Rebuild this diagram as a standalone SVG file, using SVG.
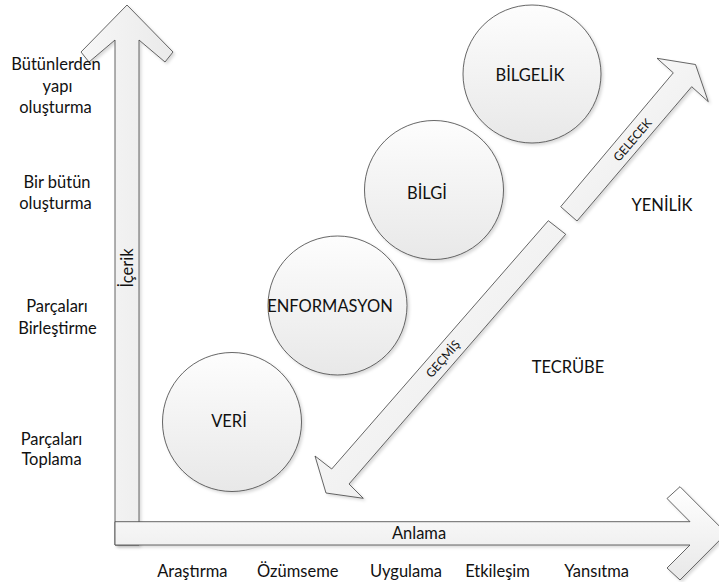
<svg xmlns="http://www.w3.org/2000/svg" width="719" height="582" viewBox="0 0 719 582">
<style>
  text { font-family: Lato, "Open Sans", "Liberation Sans", sans-serif; fill: #111; }
  .lbl { font-size: 16.5px; text-anchor: middle; }
  .small { font-size: 12px; text-anchor: middle; }
  .shape { stroke: #404040; stroke-width: 0.8; filter: url(#shadow); }
</style>
<defs>
  <filter id="shadow" x="-10%" y="-10%" width="130%" height="130%">
    <feDropShadow dx="2" dy="2" stdDeviation="1.5" flood-color="#000" flood-opacity="0.15"/>
  </filter>
  <linearGradient id="gCircle" x1="0" y1="0" x2="0" y2="1">
    <stop offset="0" stop-color="#fdfdfd"/>
    <stop offset="1" stop-color="#e8e8e8"/>
  </linearGradient>
  <linearGradient id="gH" x1="0" y1="0" x2="0" y2="1">
    <stop offset="0" stop-color="#ffffff"/>
    <stop offset="1" stop-color="#e8e8e8"/>
  </linearGradient>
  <linearGradient id="gV" x1="0" y1="0" x2="1" y2="0">
    <stop offset="0" stop-color="#f7f7f7"/>
    <stop offset="1" stop-color="#eaeaea"/>
  </linearGradient>
  <linearGradient id="gD" x1="0" y1="0" x2="1" y2="1">
    <stop offset="0" stop-color="#fdfdfd"/>
    <stop offset="1" stop-color="#e8e8e8"/>
  </linearGradient>
</defs>

<g id="connectors">
  <g id="axis-icerik">
    <polygon class="shape" fill="url(#gV)" points="115,545 115,40 89,62 81,52 127,5 173,52 165,62 139,40 139,545"/>
    <text class="lbl" transform="translate(133,268) rotate(-90)">İçerik</text>
  </g>
  <g id="axis-anlama">
    <polygon class="shape" fill="url(#gH)" points="115,521.7 690,521.7 667,498.5 680,486.7 726.5,533.3 680,580 667,568 690,545 115,545"/>
    <text class="lbl" x="419" y="538.5">Anlama</text>
  </g>
  <g id="arrow-gelecek">
    <polygon class="shape" fill="url(#gD)" points="560.7,206.7 673.3,72.8 657,58.3 695.5,64.5 708.3,101.7 691.7,86.7 577,221"/>
    <text class="small" transform="translate(632.5,140) rotate(-49.5)" dy="4.2">GELECEK</text>
  </g>
  <g id="arrow-gecmis">
    <polygon class="shape" fill="url(#gD)" points="548.3,220.7 331.7,469 315,456 326,493 363.3,498.3 349,484 565.7,234.3"/>
    <text class="small" transform="translate(443,359) rotate(-49)" dy="4.2">GEÇMİŞ</text>
  </g>
</g>

<g id="node-veri">
  <circle class="shape" fill="url(#gCircle)" cx="232" cy="422" r="69.5"/>
  <text class="lbl" x="229" y="427">VERİ</text>
</g>
<g id="node-enformasyon">
  <circle class="shape" fill="url(#gCircle)" cx="337.5" cy="305.5" r="69.5"/>
  <text class="lbl" x="330" y="311.5">ENFORMASYON</text>
</g>
<g id="node-bilgi">
  <circle class="shape" fill="url(#gCircle)" cx="434" cy="190" r="69.5"/>
  <text class="lbl" x="427" y="198.5">BİLGİ</text>
</g>
<g id="node-bilgelik">
  <circle class="shape" fill="url(#gCircle)" cx="532" cy="74" r="69"/>
  <text class="lbl" x="530" y="81">BİLGELİK</text>
</g>

<g id="labels">
  <text class="lbl" x="56" y="70">Bütünlerden</text>
  <text class="lbl" x="57.5" y="91.5">yapı</text>
  <text class="lbl" x="55.5" y="113">oluşturma</text>

  <text class="lbl" x="57" y="188">Bir bütün</text>
  <text class="lbl" x="55.5" y="209">oluşturma</text>

  <text class="lbl" x="57" y="312">Parçaları</text>
  <text class="lbl" x="57.5" y="334">Birleştirme</text>

  <text class="lbl" x="51.5" y="444.5">Parçaları</text>
  <text class="lbl" x="51.5" y="465">Toplama</text>

  <text class="lbl" x="192.3" y="577">Araştırma</text>
  <text class="lbl" x="297.8" y="577">Özümseme</text>
  <text class="lbl" x="406" y="577">Uygulama</text>
  <text class="lbl" x="497.5" y="577">Etkileşim</text>
  <text class="lbl" x="596.7" y="577">Yansıtma</text>

  <text class="lbl" x="662" y="211">YENİLİK</text>
  <text class="lbl" x="568" y="372.5">TECRÜBE</text>
</g>
</svg>
